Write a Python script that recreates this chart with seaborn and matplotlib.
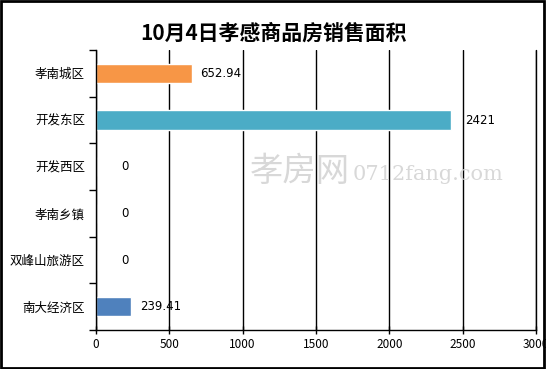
import matplotlib
matplotlib.use("Agg")
import pandas as pd
import seaborn as sns
from matplotlib import pyplot as plt
from matplotlib.patches import Rectangle

districts = ["孝南城区", "开发东区", "开发西区", "孝南乡镇", "双峰山旅游区", "南大经济区"]
areas = [652.94, 2421, 0, 0, 0, 239.41]
bar_colors = ["#F79646", "#4BACC6", "#4F81BD", "#4F81BD", "#4F81BD", "#4F81BD"]
value_labels = ["652.94", "2421", "0", "0", "0", "239.41"]
x_ticks = [0, 500, 1000, 1500, 2000, 2500, 3000]

sns.set_style("white")
plt.rcParams['font.family'] = ['Noto Sans CJK SC', 'DejaVu Sans']
plt.rcParams['text.color'] = 'black'
plt.rcParams['xtick.color'] = 'black'
plt.rcParams['ytick.color'] = 'black'

df = pd.DataFrame({"district": districts, "area": areas})

fig = plt.figure(figsize=(5.46, 3.69), dpi=100)
ax = fig.add_axes([96 / 546, 1 - 330 / 369, 440 / 546, 280 / 369])

sns.barplot(data=df, x="area", y="district", hue="district", palette=bar_colors,
            legend=False, width=0.42, saturation=1, ax=ax)

ax.set_xlim(0, 3000)
ax.set_ylim(5.5, -0.5)
ax.set_xticks(x_ticks)
ax.set_xticklabels([str(t) for t in x_ticks], fontsize=8.5)
ax.xaxis.grid(True, color="black", linewidth=1)
ax.axvline(3000, color="black", linewidth=1, clip_on=False, zorder=0)
ax.set_axisbelow(True)
ax.set_xlabel("")
ax.set_ylabel("")
ax.tick_params(axis="x", bottom=True, direction="inout", length=6, width=1, color="black", pad=3)
ax.tick_params(axis="y", which="major", left=True, length=0, labelsize=9, pad=8)
ax.set_yticks([i + 0.5 for i in range(-1, 6)], minor=True)
ax.tick_params(axis="y", which="minor", left=True, direction="out", length=5, width=1, color="black")

for s in ["top", "right"]:
    ax.spines[s].set_visible(False)
for s in ["left", "bottom"]:
    ax.spines[s].set_color("black")
    ax.spines[s].set_linewidth(1)

for i, (v, lab) in enumerate(zip(areas, value_labels)):
    ax.annotate(lab, (v, i), xytext=(21, 0), textcoords="offset points",
                ha="center", va="center", fontsize=8.5, family="DejaVu Sans")

# watermark
fig.text(300 / 546, 1 - 172 / 369, "孝房网", fontsize=24, color="#d8d8d8",
         ha="center", va="center", zorder=0)
fig.text(428 / 546, 1 - 174 / 369, "0712fang.com", fontsize=15, color="#d8d8d8",
         ha="center", va="center", family="DejaVu Serif", zorder=0)

fig.suptitle("10月4日孝感商品房销售面积", y=1 - 23 / 369, fontsize=15, fontweight="bold",
             color="black")

fig.patches.append(Rectangle((0.002, 0.003), 0.995, 0.994, transform=fig.transFigure,
                             fill=False, edgecolor="black", linewidth=2))

plt.savefig("out.png", dpi=100)
